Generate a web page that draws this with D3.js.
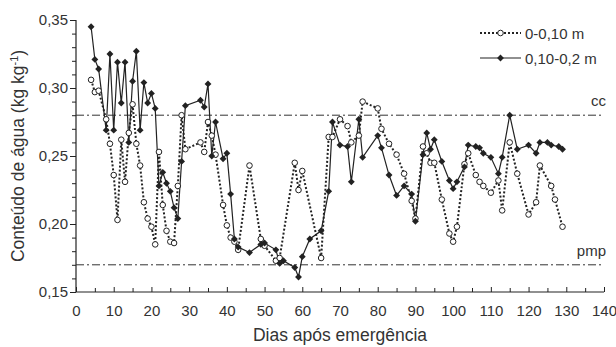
<!DOCTYPE html>
<html>
<head>
<meta charset="utf-8">
<script src="https://cdn.jsdelivr.net/npm/d3@7"></script>
<style>
  html, body { margin: 0; padding: 0; background: #fff; }
  svg { display: block; font-family: "Liberation Sans", Arial, Helvetica, sans-serif; }
</style>
</head>
<body>
<svg id="chart" width="616" height="347"></svg>
<script>
// Soil water content, layer 0-0.10 m (dotted line, open circles)
const daysTop = [4,5,6,8,9,10,11,12,13,14,15,16,17,18,19,20,21,22,23,24,25,26,27,28,29,33,34,35,36,37,39,40,41,42,43,46,49,50,53,54,58,59,60,65,67,68,70,72,73,75,76,80,81,83,85,87,89,90,92,93,94,95,97,99,100,101,103,104,106,107,108,110,112,113,115,117,120,122,123,126,127,129];
const waterTop = [0.306,0.297,0.298,0.277,0.259,0.236,0.203,0.262,0.231,0.267,0.288,0.259,0.243,0.216,0.204,0.198,0.185,0.253,0.214,0.195,0.187,0.186,0.228,0.280,0.255,0.260,0.253,0.275,0.265,0.251,0.214,0.199,0.190,0.187,0.181,0.243,0.189,0.184,0.173,0.175,0.245,0.225,0.239,0.175,0.264,0.264,0.277,0.272,0.260,0.265,0.290,0.285,0.270,0.259,0.251,0.237,0.217,0.204,0.257,0.252,0.245,0.245,0.218,0.193,0.187,0.198,0.244,0.252,0.236,0.231,0.228,0.223,0.232,0.210,0.260,0.237,0.207,0.216,0.243,0.228,0.218,0.198];

// Soil water content, layer 0.10-0.2 m (solid line, filled diamonds)
const daysSub = [4,5,6,8,9,10,11,12,13,14,15,16,17,18,19,20,21,22,23,24,25,26,27,28,29,33,34,35,36,37,39,40,41,42,43,46,49,50,53,54,55,58,59,60,62,65,67,68,70,72,73,75,76,80,81,83,85,87,89,90,92,93,94,95,97,99,100,101,103,104,106,107,108,110,112,113,115,117,120,122,123,125,126,128,129];
const waterSub = [0.345,0.321,0.314,0.269,0.325,0.269,0.319,0.289,0.319,0.260,0.305,0.327,0.269,0.304,0.289,0.296,0.285,0.228,0.238,0.230,0.224,0.212,0.204,0.246,0.287,0.291,0.286,0.303,0.250,0.275,0.248,0.252,0.222,0.189,0.183,0.179,0.185,0.186,0.181,0.171,0.173,0.168,0.161,0.176,0.189,0.195,0.224,0.275,0.258,0.257,0.231,0.277,0.249,0.265,0.256,0.236,0.221,0.228,0.222,0.202,0.251,0.267,0.255,0.262,0.246,0.232,0.226,0.231,0.242,0.258,0.257,0.256,0.252,0.249,0.237,0.249,0.280,0.255,0.258,0.252,0.260,0.260,0.258,0.257,0.255];

// Reference levels: field capacity and permanent wilting point
const refLevels = [0.28, 0.17];
const refNames = ["cc", "pmp"];

const seriesNames = ["0-0,10 m", "0,10-0,2 m"];
const xTicks = [0,10,20,30,40,50,60,70,80,90,100,110,120,130,140];
const yTicks = [0.15,0.20,0.25,0.30,0.35];

const svg = d3.select("#chart");
const ink = "#222";
const plotL = 76, plotR = 604, plotT = 20, plotB = 292;

const x = d3.scaleLinear().domain([0, 140]).range([plotL, plotR]);
const y = d3.scaleLinear().domain([0.15, 0.35]).range([plotB, plotT]);
const fmt = v => d3.format(".2f")(v).replace(".", ",");

// Minor ticks
const gMinorY = svg.append("g").attr("transform", `translate(${plotL},0)`)
  .call(d3.axisLeft(y).tickValues(d3.range(0.15, 0.3501, 0.01)).tickSize(4).tickFormat(""));
gMinorY.select(".domain").remove();
gMinorY.selectAll("line").attr("stroke", ink);

const gMinorX = svg.append("g").attr("transform", `translate(0,${plotB})`)
  .call(d3.axisBottom(x).tickValues(d3.range(5, 140, 10)).tickSizeInner(-4).tickSizeOuter(0).tickFormat(""));
gMinorX.select(".domain").remove();
gMinorX.selectAll("line").attr("stroke", ink);

// Main axes
const gy = svg.append("g").attr("transform", `translate(${plotL},0)`)
  .call(d3.axisLeft(y).tickValues(yTicks).tickSize(6).tickSizeOuter(0).tickPadding(2).tickFormat(fmt));
const gx = svg.append("g").attr("transform", `translate(0,${plotB})`)
  .call(d3.axisBottom(x).tickValues(xTicks).tickSizeInner(-5).tickSizeOuter(0).tickPadding(13));
[gx, gy].forEach(g => {
  g.select(".domain").attr("stroke", ink).attr("stroke-width", 1.2);
  g.selectAll("line").attr("stroke", ink);
  g.selectAll("text").attr("fill", "#333").style("font-size", "15px").style("font-family", "inherit");
});
gx.select(".domain").attr("d", `M${plotL},0H${plotR}`);
gy.select(".domain").attr("d", `M0,${plotB}V${plotT}`);

// Reference lines
svg.append("g").selectAll("line").data(refLevels).join("line")
  .attr("x1", plotL).attr("x2", plotR)
  .attr("y1", d => y(d)).attr("y2", d => y(d))
  .attr("stroke", "#333").attr("stroke-width", 1)
  .attr("stroke-dasharray", "8,3,2,3");
svg.append("g").selectAll("text").data(refLevels).join("text")
  .attr("x", plotR + 2).attr("y", d => y(d) - 9)
  .attr("text-anchor", "end").attr("fill", "#333").style("font-size", "15px")
  .text((d, i) => refNames[i]);

// Series
const topData = daysTop.map((d, i) => [d, waterTop[i]]);
const subData = daysSub.map((d, i) => [d, waterSub[i]]);
const line = d3.line().x(d => x(d[0])).y(d => y(d[1]));

svg.append("path").datum(topData).attr("d", line)
  .attr("fill", "none").attr("stroke", ink).attr("stroke-width", 2)
  .attr("stroke-dasharray", "2,2");
svg.append("path").datum(subData).attr("d", line)
  .attr("fill", "none").attr("stroke", ink).attr("stroke-width", 1.2);

svg.append("g").selectAll("circle").data(topData).join("circle")
  .attr("cx", d => x(d[0])).attr("cy", d => y(d[1])).attr("r", 2.8)
  .attr("fill", "#fff").attr("stroke", ink).attr("stroke-width", 1);

const diamond = d3.symbol().type(d3.symbolDiamond2).size(30);
svg.append("g").selectAll("path").data(subData).join("path")
  .attr("transform", d => `translate(${x(d[0])},${y(d[1])})`)
  .attr("d", diamond).attr("fill", ink);

// Legend
const legend = svg.append("g");
const rows = [{ y: 33, dash: "2,2", w: 2, mark: "circle" }, { y: 58, dash: null, w: 1.2, mark: "diamond" }];
rows.forEach((r, i) => {
  legend.append("line").attr("x1", 480).attr("x2", 521).attr("y1", r.y).attr("y2", r.y)
    .attr("stroke", ink).attr("stroke-width", r.w).attr("stroke-dasharray", r.dash);
  if (r.mark === "circle") {
    legend.append("circle").attr("cx", 500.5).attr("cy", r.y).attr("r", 2.8)
      .attr("fill", "#fff").attr("stroke", ink);
  } else {
    legend.append("path").attr("transform", `translate(500.5,${r.y})`).attr("d", diamond).attr("fill", ink);
  }
  legend.append("text").attr("x", 525).attr("y", r.y + 5.5)
    .attr("fill", "#333").style("font-size", "15px").text(seriesNames[i]);
});

// Axis titles
svg.append("text").attr("x", (plotL + plotR) / 2).attr("y", 341)
  .attr("text-anchor", "middle").attr("fill", "#333").style("font-size", "17.5px")
  .text("Dias após emergência");
const yt = svg.append("text")
  .attr("transform", `translate(24,${(plotT + plotB) / 2}) rotate(-90)`)
  .attr("text-anchor", "middle").attr("fill", "#333").style("font-size", "17.5px");
yt.append("tspan").text("Conteúdo de água (kg kg");
yt.append("tspan").attr("dy", -6).style("font-size", "11px").text("-1");
yt.append("tspan").attr("dy", 6).text(")");
</script>
</body>
</html>
